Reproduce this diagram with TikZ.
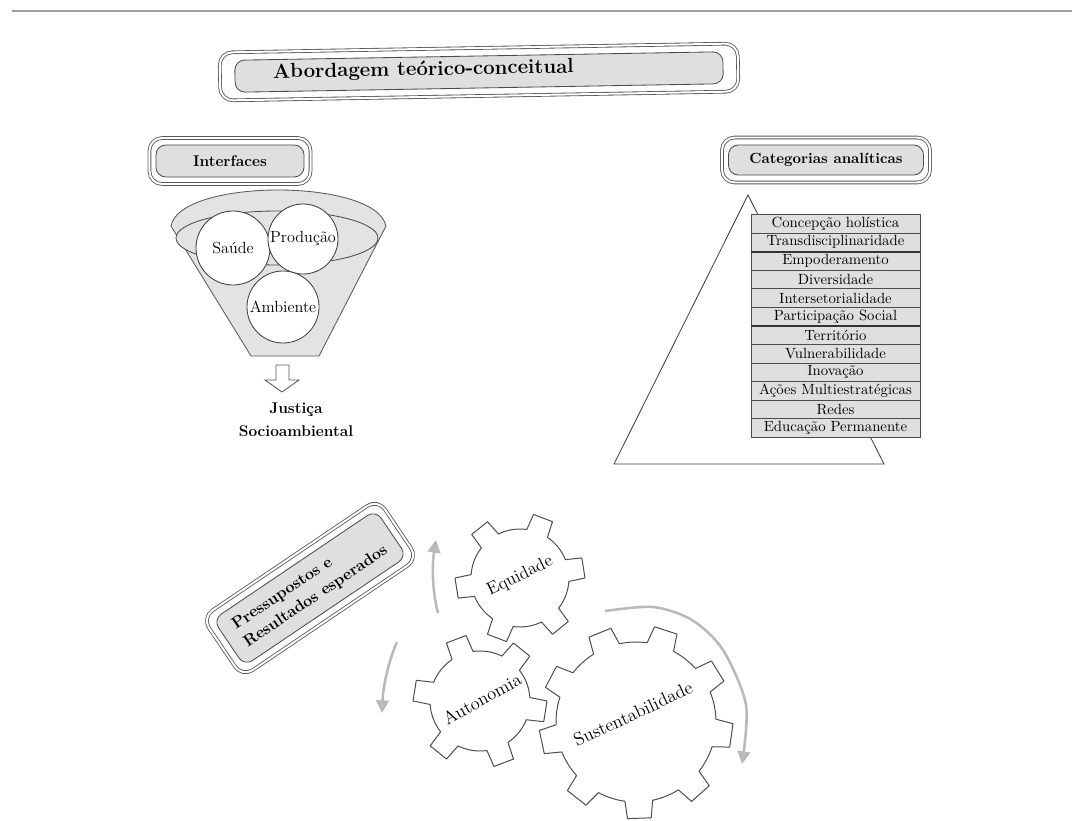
\documentclass[tikz,border=0pt]{standalone}
\usepackage{tikz}
\usetikzlibrary{arrows.meta, positioning}
\tikzset{
  frameout/.style={rectangle, rounded corners=9pt, draw=gray!70!black, double=white,
    double distance=1.4pt, line width=0.6pt, inner sep=0pt},
  framein/.style={rectangle, rounded corners=7pt, draw=black!70, fill=gray!25,
    line width=0.6pt, inner sep=0pt, font=\bfseries},
  bubble/.style={circle, draw=black!75, fill=white, line width=0.6pt, inner sep=0pt,
    font=\fontsize{11.5}{13}\selectfont},
  catrow/.style={rectangle, draw=black!70, fill=gray!25, line width=0.5pt, minimum width=4.225cm,
    minimum height=0.4646cm, inner sep=0pt, anchor=north, font=\fontsize{10.5}{12}\selectfont},
  gearline/.style={draw=black!70, fill=white, line width=0.7pt, line join=round},
  geartext/.style={font=\fontsize{12.5}{14}\selectfont},
  turnarrow/.style={draw=gray!55, line width=1.8pt, -{Triangle[length=9pt, width=9pt]}}
}
% center, teeth, body radius, tip radius, rotation, half angle at base, half angle at tip
\newcommand{\gearshape}[7]{%
  \draw[gearline, shift={(#1)}] ({#5-#6}:#3)
    \foreach \k in {1,...,#2}{
      -- ({#5+(\k-1)*360/#2-#7}:#4) -- ({#5+(\k-1)*360/#2+#7}:#4)
      -- ({#5+(\k-1)*360/#2+#6}:#3)
      arc[start angle={#5+(\k-1)*360/#2+#6}, end angle={#5+\k*360/#2-#6}, radius=#3]
    } -- cycle;}

\begin{document}
\begin{tikzpicture}[x=0.025cm, y=-0.025cm]
  \useasboundingbox (0,0) rectangle (1072,821);
  \draw[gray!75, line width=1.3pt] (12,11) -- (1072,11);

  % title
  \node[frameout, rotate=1, minimum width=12.95cm, minimum height=1.2cm] (titleframe) at (479,72) {};
  \node[framein, rotate=1, minimum width=12.2cm, minimum height=0.8cm] (titlebox) at (titleframe) {};
  \node[font=\bfseries\fontsize{14.5}{16}\selectfont, anchor=west, rotate=1] (title) at (268,73)
        {Abordagem teórico-conceitual};

  % interfaces
  \node[frameout, minimum width=4.025cm, minimum height=1.15cm] (ifframe) at (230,161) {};
  \node[framein, minimum width=3.7cm, minimum height=0.8cm, font=\bfseries\fontsize{11}{13}\selectfont]
        (ifbox) at (ifframe) {Interfaces};
  \draw[draw=black!65, fill=gray!22, line width=0.6pt]
    (251,356) -- (171,226) .. controls (180,178) and (376,178) .. (386,226) -- (319,356) -- cycle;
  \draw[draw=black!70, fill=gray!22, line width=0.6pt] (277,238) ellipse [x radius=101, y radius=27];
  \node[bubble, minimum size=1.85cm] (saude)    at (233,248) {Saúde};
  \node[bubble, minimum size=1.75cm] (producao) at (303,239) {Produção};
  \node[bubble, minimum size=1.8cm]  (ambiente) at (283,307) {Ambiente};
  \draw[draw=black!65, fill=white, line width=0.6pt]
    (276,365) -- (289,365) -- (289,380) -- (299,380) -- (282,392) -- (265,380) -- (276,380) -- cycle;
  \node[font=\bfseries\fontsize{11}{16.5}\selectfont, align=center] (justica) at (296,420)
        {Justiça\\Socioambiental};

  % categorias
  \node[frameout, minimum width=5.2cm, minimum height=1.125cm] (catframe) at (826,160) {};
  \node[framein, minimum width=4.875cm, minimum height=0.75cm, font=\bfseries\fontsize{10.5}{12}\selectfont]
        (catbox) at (catframe) {Categorias analíticas};
  \draw[draw=black!75, line width=0.6pt] (748,195) -- (614,464) -- (884,464) -- cycle;
  \foreach \txt [count=\i] in {Concepção holística, Transdisciplinaridade, Empoderamento, Diversidade,
      Intersetorialidade, Participação Social, Território, Vulnerabilidade, Inovação,
      Ações Multiestratégicas, Redes, Educação Permanente}
    \node[catrow] (cat\i) at (835.5,{214+(\i-1)*18.58}) {\txt};
  \draw[black!80, line width=1.3pt] (cat2.south west) -- (cat2.south east);
  \draw[black!80, line width=1.3pt] (cat6.south west) -- (cat6.south east);

  % pressupostos
  \node[frameout, rotate=34, minimum width=5.3cm, minimum height=1.8cm] (presframe) at (310,588) {};
  \node[framein, rotate=34, minimum width=4.9cm, minimum height=1.4cm, align=left,
        font=\bfseries\fontsize{11.5}{15}\selectfont] (presbox) at (presframe)
        {Pressupostos e\\Resultados esperados};

  % gears
  \gearshape{520,578}{6}{49}{65}{-9}{13}{9}
  \gearshape{480,701}{6}{50}{67}{-51}{13}{9}
  \gearshape{636,722}{9}{80}{97}{-32}{10}{7}
  \node[geartext, rotate=26] (equidade)  at (520,576) {Equidade};
  \node[geartext, rotate=29, font=\fontsize{13}{15}\selectfont] (autonomia) at (482,699) {Autonomia};
  \node[geartext, rotate=25, font=\fontsize{13}{15}\selectfont] (sustent) at (633,714) {Sustentabilidade};

  \draw[turnarrow] (438,613) .. controls (432,590) and (432,565) .. (436,540);
  \draw[turnarrow] (397,642) .. controls (388,662) and (383,688) .. (382,713);
  \draw[turnarrow] plot[smooth, tension=0.5] coordinates {(605,611) (653,607) (692,620) (723,650) (746,705) (742,764)};
\end{tikzpicture}
\end{document}
